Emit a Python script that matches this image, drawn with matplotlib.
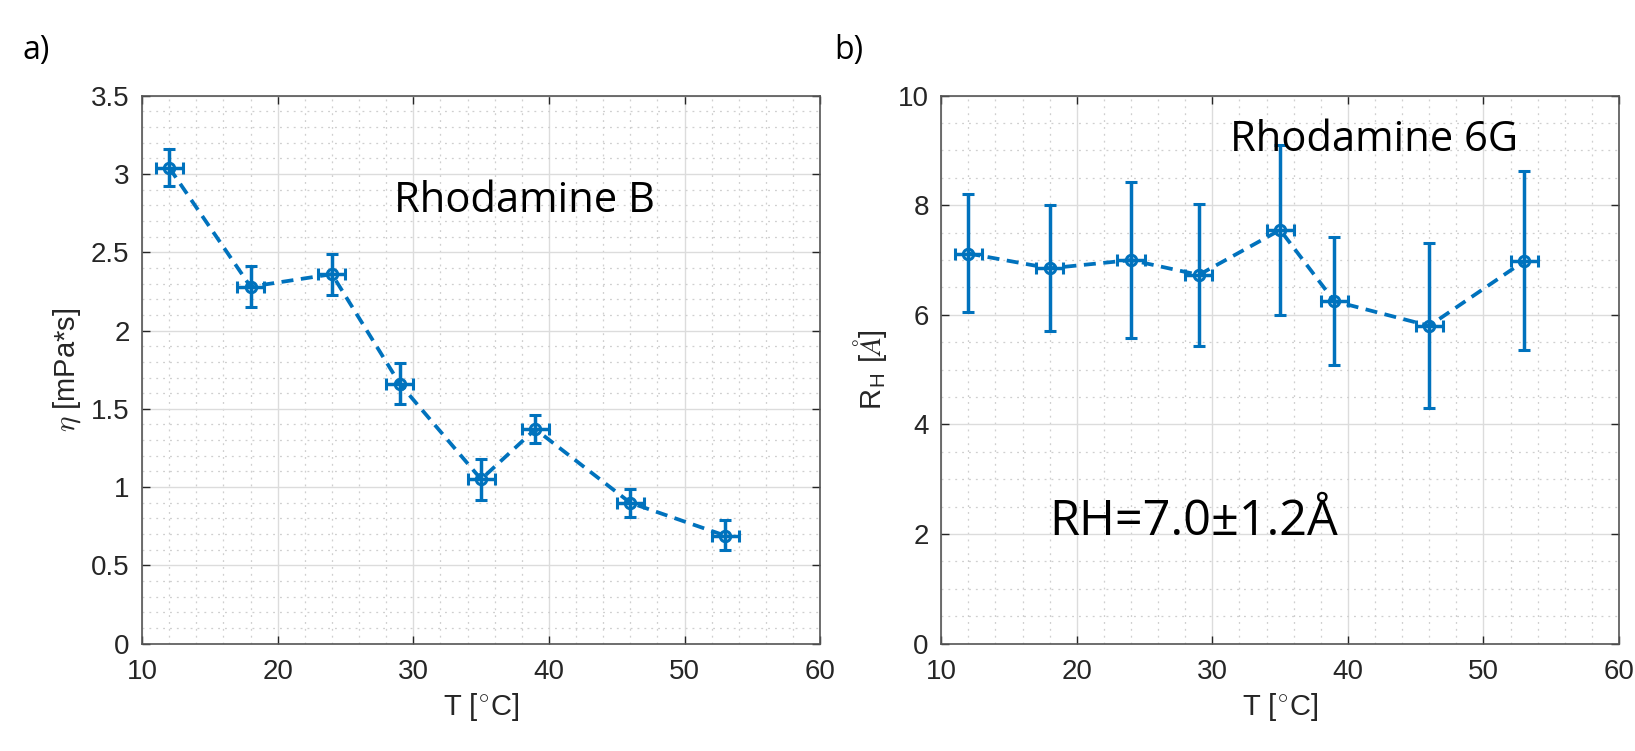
import matplotlib
matplotlib.use("Agg")
import matplotlib.pyplot as plt
from matplotlib.ticker import MultipleLocator, FuncFormatter

plt.rcParams['font.family'] = ['Liberation Sans', 'DejaVu Sans']
plt.rcParams['mathtext.fontset'] = 'cm'

T = [12, 18, 24, 29, 35, 39, 46, 53]
T_err = [1, 1, 1, 1, 1, 1, 1, 1]

eta = [3.04, 2.28, 2.36, 1.66, 1.05, 1.37, 0.90, 0.69]
eta_lo = [0.12, 0.13, 0.13, 0.13, 0.13, 0.09, 0.09, 0.09]
eta_hi = [0.12, 0.13, 0.13, 0.13, 0.13, 0.09, 0.09, 0.10]

rh = [7.12, 6.85, 7.00, 6.73, 7.55, 6.25, 5.80, 6.98]
rh_lo = [1.07, 1.15, 1.42, 1.30, 1.55, 1.17, 1.50, 1.63]
rh_hi = [1.08, 1.15, 1.42, 1.30, 1.55, 1.17, 1.52, 1.64]

blue = '#0072BD'
tick_col = '#262626'

fig = plt.figure(figsize=(16.35, 7.51), dpi=100)
ax1 = fig.add_axes([0.0869, 0.1429, 0.4147, 0.7297])
ax2 = fig.add_axes([0.5757, 0.1429, 0.4145, 0.7297])

def style(ax, ymax, ymaj, ymin):
    ax.set_xlim(10, 60)
    ax.set_ylim(0, ymax)
    ax.xaxis.set_major_locator(MultipleLocator(10))
    ax.xaxis.set_minor_locator(MultipleLocator(2))
    ax.yaxis.set_major_locator(MultipleLocator(ymaj))
    ax.yaxis.set_minor_locator(MultipleLocator(ymin))
    ax.yaxis.set_major_formatter(FuncFormatter(lambda v, p: '%g' % v))
    ax.grid(which='major', color='#dcdcdc', linewidth=1.0, linestyle='-')
    ax.grid(which='minor', color='#cfcfcf', linewidth=0.9, linestyle=(0, (1.5, 4)))
    ax.set_axisbelow(True)
    ax.tick_params(which='both', direction='in', top=True, right=True,
                   colors=tick_col, labelsize=20)
    ax.tick_params(axis='y', pad=9)
    ax.tick_params(axis='x', pad=11)
    ax.tick_params(which='major', length=5.5, width=1)
    ax.tick_params(which='minor', length=0)
    for s in ax.spines.values():
        s.set_color('#555555')
        s.set_linewidth(1.2)
    ax.set_xlabel(r'T [$^{\circ}$C]', fontsize=21, color=tick_col, labelpad=4)

def plot(ax, y, lo, hi):
    ax.errorbar(T, y, yerr=[lo, hi], xerr=T_err, fmt='o', color=blue,
                ecolor=blue, elinewidth=2.5, capsize=4.6, capthick=2.5,
                markersize=7.5, markerfacecolor='none', markeredgewidth=2.2,
                linestyle=(0, (3.2, 2.0)), linewidth=2.7)

style(ax1, 3.5, 0.5, 0.1)
plot(ax1, eta, eta_lo, eta_hi)
ax1.set_ylabel(r'$\eta$ [mPa*s]', fontsize=21, color=tick_col, labelpad=6)
ax1.text(38.2, 2.83, 'Rhodamine B', fontsize=30, family='Open Sans', color='black',
         ha='center', va='center')

style(ax2, 10, 2, 0.5)
plot(ax2, rh, rh_lo, rh_hi)
ax2.set_ylabel(r'R$_\mathregular{H}$ [$\AA$]', fontsize=21, color=tick_col, labelpad=6)
ax2.text(41.9, 9.2, 'Rhodamine 6G', fontsize=30, family='Open Sans', color='black',
         ha='center', va='center')
ax2.text(28.6, 2.22, 'RH=7.0±1.2Å', fontsize=35, family='Open Sans', color='black',
         ha='center', va='center')

fig.text(0.014, 0.933, 'a)', fontsize=23, family='Open Sans', va='center')
fig.text(0.510, 0.933, 'b)', fontsize=23, family='Open Sans', va='center')

fig.savefig('out.png', dpi=100)
